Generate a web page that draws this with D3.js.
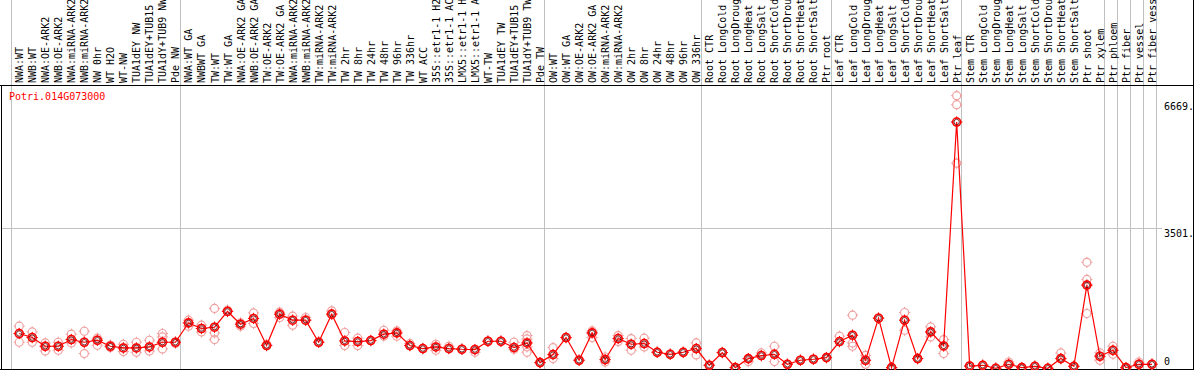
<!DOCTYPE html>
<html><head><meta charset="utf-8">
<script src="https://cdn.jsdelivr.net/npm/d3@7/dist/d3.min.js"></script>
<style>html,body{margin:0;padding:0;background:#fff;}svg{display:block;}</style>
</head><body>
<svg id="chart" width="1194" height="370"></svg>
<script>
const title = "Potri.014G073000";
const categories = [
 "NWA:WT","NWB:WT","NWA:OE-ARK2","NWB:OE-ARK2","NWA:miRNA-ARK2","NWB:miRNA-ARK2","NW 0hr","WT H2O","WT-NW","TUA1dEY NW","TUA1dEY+TUB15","TUA1dY+TUB9 NW","Pde NW",
 "NWA:WT GA","NWBWT GA","TW:WT","TW:WT GA","NWA:OE-ARK2 GA","NWB:OE-ARK2 GA","TW:OE-ARK2","TW:OE-ARK2 GA","NWA:miRNA-ARK2","NWB:miRNA-ARK2","TW:miRNA-ARK2","TW:miRNA-ARK2","TW 2hr","TW 8hr","TW 24hr","TW 48hr","TW 96hr","TW 336hr","WT ACC","35S::etr1-1 H2O","35S::etr1-1 ACC","LMX5::etr1-1 H2O","LMX5::etr1-1 ACC","WT-TW","TUA1dEY TW","TUA1dEY+TUB15","TUA1dY+TUB9 TW","Pde TW",
 "OW:WT","OW:WT GA","OW:OE-ARK2","OW:OE-ARK2 GA","OW:miRNA-ARK2","OW:miRNA-ARK2","OW 2hr","OW 8hr","OW 24hr","OW 48hr","OW 96hr","OW 336hr",
 "Root CTR","Root LongCold","Root LongDrought","Root LongHeat","Root LongSalt","Root ShortCold","Root ShortDrought","Root ShortHeat","Root ShortSalt","Ptr root",
 "Leaf CTR","Leaf LongCold","Leaf LongDrought","Leaf LongHeat","Leaf LongSalt","Leaf ShortCold","Leaf ShortDrought","Leaf ShortHeat","Leaf ShortSalt","Ptr leaf",
 "Stem CTR","Stem LongCold","Stem LongDrought","Stem LongHeat","Stem LongSalt","Stem ShortCold","Stem ShortDrought","Stem ShortHeat","Stem ShortSalt","Ptr shoot","Ptr xylem",
 "Ptr phloem","Ptr fiber","Ptr vessel","Ptr fiber vessel"
];
// group boundaries (column index where a separator line is drawn)
const groupBreaks = [0, 13, 41, 53, 63, 73, 84, 85, 86, 87, 88];
const axisTicks = [0, 3501, 6669];

const means = [
 866,766,549,549,716,649,699,549,507,507,532,649,649,
 1131,991,1023,1415,1098,1241,567,1348,1198,1198,649,1348,681,666,691,849,881,567,492,532,492,474,467,674,674,517,631,142,
 342,766,200,881,217,741,599,617,399,349,399,492,
 75,392,17,242,317,349,100,200,225,267,
 666,824,200,1248,17,1198,242,906,557,6133,
 57,75,0,100,17,50,0,242,50,2072,300,
 449,17,100,100
];
const repA = [
 1048,906,631,649,849,923,749,580,599,649,699,866,617,
 1198,1073,1490,1448,1131,1380,599,1398,1298,1265,649,1430,891,749,691,948,931,617,492,599,549,474,467,674,674,649,816,142,
 517,766,200,931,282,816,741,749,399,349,399,631,
 75,392,17,242,382,549,100,200,225,267,
 799,1323,324,1248,17,1390,242,1031,716,6789,
 57,75,0,157,17,50,0,382,50,2638,382,
 549,17,157,100
];
const repB = [
 649,649,432,449,631,367,574,520,417,399,432,482,649,
 1048,906,881,1415,1048,1116,567,1265,1073,1198,649,1348,567,567,691,799,799,567,492,449,492,474,399,674,674,474,532,142,
 242,766,200,766,157,666,449,532,399,349,399,332,
 75,392,17,167,317,167,100,200,225,267,
 666,631,100,1248,17,948,242,781,367,5109,
 57,75,0,100,17,50,0,242,50,1365,200,
 349,17,100,100
];
// additional visible replicates (null where none)
const repC = new Array(88).fill(null);
repC[11] = 781; repC[15] = 716; repC[39] = 731; repC[64] = 549; repC[72] = 6564; repC[82] = 2214;
const repD = new Array(88).fill(null);
repD[39] = 399;

const svg = d3.select("#chart");
const W = 1194, H = 370;
const x = d3.scaleBand().domain(d3.range(categories.length)).range([10.5, 1156.3]).padding(0);
const y = d3.scaleLinear().domain([0, 6669]).range([368.3, 100.5]);
const px = i => x(i) + 8.7;
const FONT = "'DejaVu Sans Mono', 'Liberation Mono', monospace";

// vertical group separators
svg.append("g").selectAll("line").data(groupBreaks).join("line")
  .attr("x1", d => Math.round(x.range()[0] + d * x.step()) + 0.5)
  .attr("x2", d => Math.round(x.range()[0] + d * x.step()) + 0.5)
  .attr("y1", 0).attr("y2", H)
  .attr("stroke", "#c0c0c0").attr("stroke-width", 1);

// horizontal gridline at middle tick
svg.append("line")
  .attr("x1", 1).attr("x2", 1162)
  .attr("y1", Math.round(y(axisTicks[1])) + 0.5).attr("y2", Math.round(y(axisTicks[1])) + 0.5)
  .attr("stroke", "#c0c0c0").attr("stroke-width", 1);

// borders
svg.append("line").attr("x1", 0).attr("x2", W).attr("y1", 85.5).attr("y2", 85.5).attr("stroke", "#000");
svg.append("line").attr("x1", 0).attr("x2", W).attr("y1", 369.5).attr("y2", 369.5).attr("stroke", "#000");
svg.append("line").attr("x1", 1.5).attr("x2", 1.5).attr("y1", 85).attr("y2", H).attr("stroke", "#000");
svg.append("line").attr("x1", 1193.5).attr("x2", 1193.5).attr("y1", 0).attr("y2", H).attr("stroke", "#000");

// category labels (rotated)
svg.append("g").selectAll("text").data(categories).join("text")
  .attr("transform", (d, i) => `translate(${px(i) + 4},83) rotate(-90)`)
  .attr("font-family", FONT).attr("font-size", 10).attr("fill", "#000")
  .text(d => d);

// title
svg.append("text").attr("x", 9).attr("y", 100)
  .attr("font-family", FONT).attr("font-size", 10).attr("fill", "#ff0000")
  .text(title);

// right axis labels
svg.append("g").selectAll("text").data(axisTicks).join("text")
  .attr("x", 1164)
  .attr("y", d => d === 0 ? 365 : y(d) + 9)
  .attr("font-family", FONT).attr("font-size", 10).attr("fill", "#000")
  .text(d => d === 0 ? "0" : d + ".");

function marker(g, cx, cy, color, sw, r) {
  g.append("circle").attr("cx", cx).attr("cy", cy).attr("r", r)
    .attr("fill", "none").attr("stroke", color).attr("stroke-width", sw);
  const t = r + 1.6;
  [[0, -1], [0, 1], [-1, 0], [1, 0]].forEach(([dx, dy]) => {
    g.append("line")
      .attr("x1", cx + dx * r).attr("y1", cy + dy * r)
      .attr("x2", cx + dx * t).attr("y2", cy + dy * t)
      .attr("stroke", color).attr("stroke-width", 1);
  });
}

// replicates
const gRep = svg.append("g");
[repA, repB, repC, repD, means].forEach(arr => {
  arr.forEach((v, i) => {
    if (v === null || v === undefined) return;
    marker(gRep, px(i), y(v), "#f0a0a0", 1.2, 4);
  });
});

// mean line
const line = d3.line().x((d, i) => px(i)).y(d => y(d));
svg.append("path").datum(means).attr("d", line)
  .attr("fill", "none").attr("stroke", "#ff0000").attr("stroke-width", 1.2);

// mean markers
const gMean = svg.append("g");
means.forEach((v, i) => {
  marker(gMean, px(i), y(v), "#ff0000", 1.6, 4);
  gMean.append("circle").attr("cx", px(i)).attr("cy", y(v)).attr("r", 2.7)
    .attr("fill", "none").attr("stroke", "#500").attr("stroke-width", 0.8);
});
</script>
</body></html>
